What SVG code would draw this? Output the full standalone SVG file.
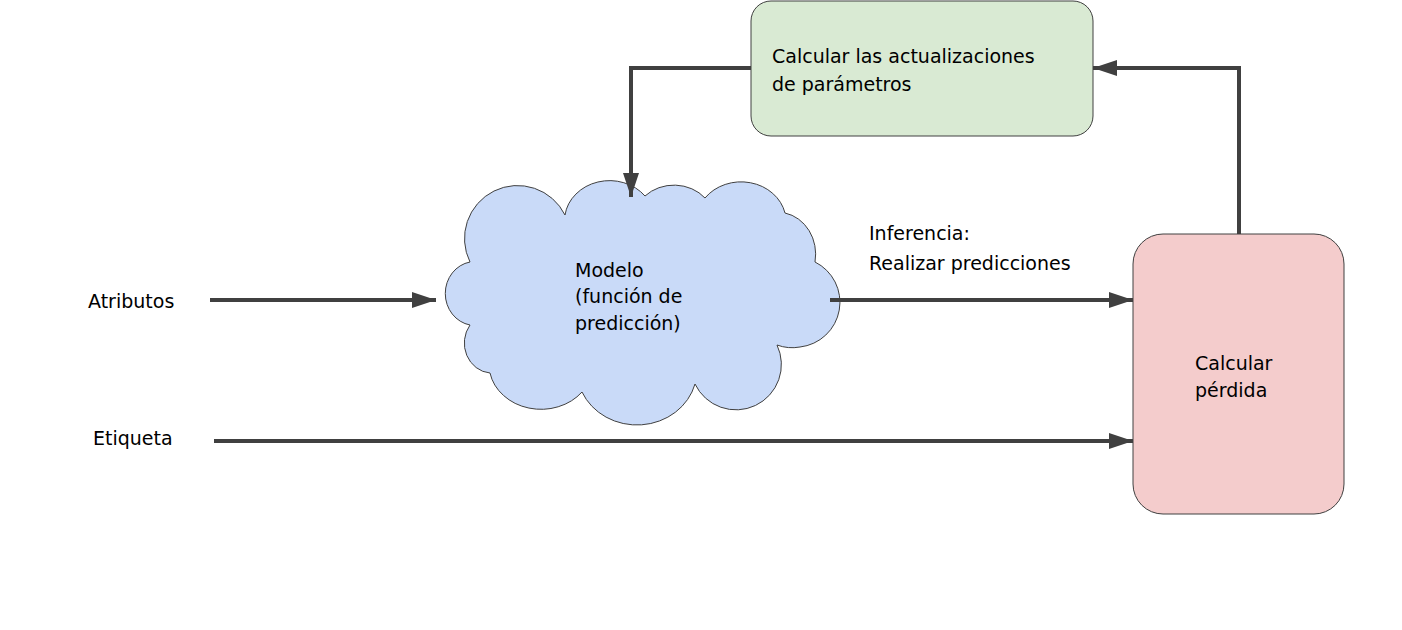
<svg xmlns="http://www.w3.org/2000/svg" width="1402" height="630" viewBox="0 0 1402 630">
<style>
text{font-family:"DejaVu Sans",sans-serif;font-size:19px;fill:#000}
.c{stroke:#404040;stroke-width:4;fill:none}
</style>
<defs><marker id="a" markerWidth="8" markerHeight="8" refX="7" refY="4" orient="auto" markerUnits="userSpaceOnUse" viewBox="0 0 8 8"><path d="M0,0L8,4L0,8z" fill="#404040"/></marker>
<marker id="b" viewBox="0 0 10 10" refX="10" refY="5" markerWidth="24" markerHeight="16" orient="auto" markerUnits="userSpaceOnUse" preserveAspectRatio="none"><path d="M0,0L10,5L0,10z" fill="#404040"/></marker></defs>
<rect width="1402" height="630" fill="#fff"/>
<g id="params"><rect x="751" y="1" width="342" height="135" rx="20" fill="#d9ead3" stroke="#404040"/><text x="772" y="63">Calcular las actualizaciones</text><text x="772" y="91">de parámetros</text></g>
<g id="loss"><rect x="1133" y="234" width="211" height="280" rx="30" fill="#f4cccc" stroke="#404040"/><text x="1195" y="370">Calcular</text><text x="1195" y="397">pérdida</text></g>
<g id="model"><path d="M470,262 A52,52 0 0 1 565,215 A45,40 0 0 1 645,196 A40,35 0 0 1 705,198 A45,40 0 0 1 785,213 A38,42 0 0 1 815,262 A45,45 0 0 1 800,347 A42,40 0 0 1 777,345 A42,42 0 0 1 695,384 A60,55 0 0 1 582,392 A52,45 0 0 1 490,373 A28,30 0 0 1 470,325 A30,32 0 0 1 470,262 Z" fill="#c9daf8" stroke="#404040"/>
<text x="575" y="277">Modelo</text><text x="575" y="303">(función de</text><text x="575" y="330">predicción)</text></g>
<g id="labels"><text x="88" y="308">Atributos</text><text x="93" y="445">Etiqueta</text><text x="869" y="240">Inferencia:</text><text x="869" y="270">Realizar predicciones</text></g>
<g id="connectors">
<path class="c" d="M210,300H436" marker-end="url(#b)"/>
<path class="c" d="M214,441H1133" marker-end="url(#b)"/>
<path class="c" d="M830,300H1133" marker-end="url(#b)"/>
<path class="c" d="M1239,234V68H1093" marker-end="url(#b)"/>
<path class="c" d="M751,68H631V197" marker-end="url(#b)"/>
</g>
</svg>
